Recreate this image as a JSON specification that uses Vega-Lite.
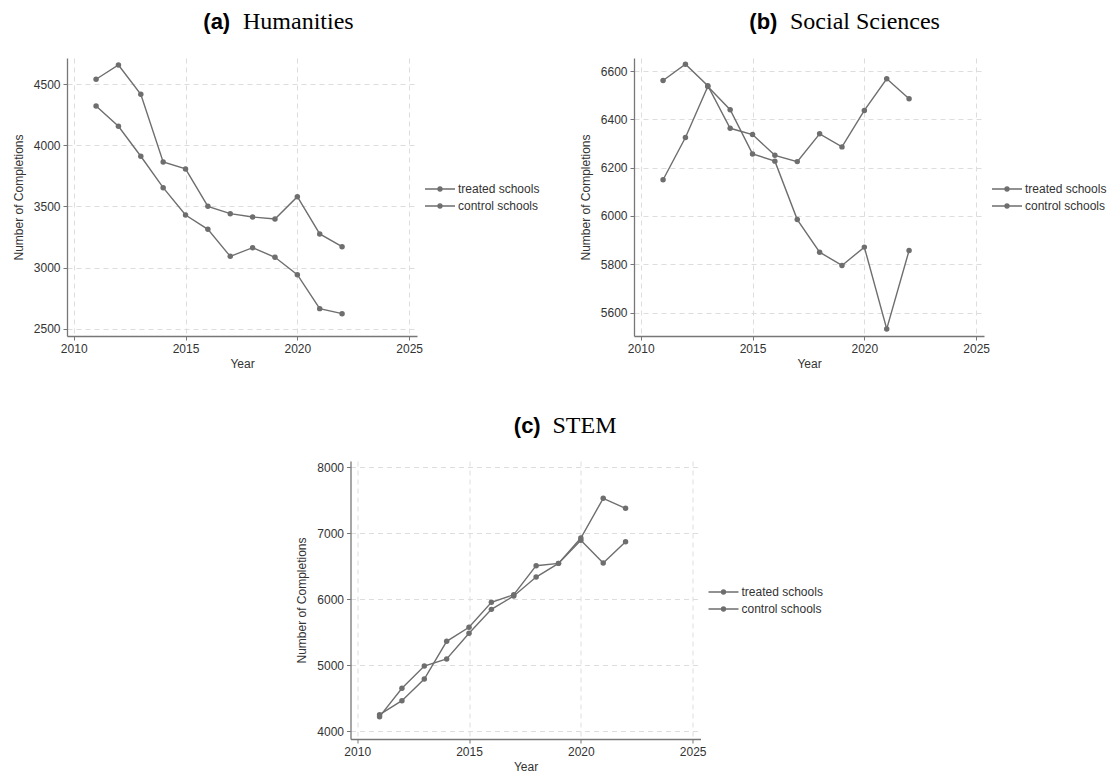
{
  "$schema": "https://vega.github.io/schema/vega-lite/v6.json",
  "background": "white",
  "padding": {"left": 12, "top": 10, "right": 0, "bottom": 0},
  "datasets": {
    "hum": [
      {"year": 2011, "group": "treated schools", "value": 4541},
      {"year": 2012, "group": "treated schools", "value": 4658},
      {"year": 2013, "group": "treated schools", "value": 4418},
      {"year": 2014, "group": "treated schools", "value": 3864},
      {"year": 2015, "group": "treated schools", "value": 3807},
      {"year": 2016, "group": "treated schools", "value": 3501},
      {"year": 2017, "group": "treated schools", "value": 3441},
      {"year": 2018, "group": "treated schools", "value": 3414},
      {"year": 2019, "group": "treated schools", "value": 3398},
      {"year": 2020, "group": "treated schools", "value": 3580},
      {"year": 2021, "group": "treated schools", "value": 3275},
      {"year": 2022, "group": "treated schools", "value": 3171},
      {"year": 2011, "group": "control schools", "value": 4323},
      {"year": 2012, "group": "control schools", "value": 4156},
      {"year": 2013, "group": "control schools", "value": 3911},
      {"year": 2014, "group": "control schools", "value": 3654},
      {"year": 2015, "group": "control schools", "value": 3430},
      {"year": 2016, "group": "control schools", "value": 3313},
      {"year": 2017, "group": "control schools", "value": 3092},
      {"year": 2018, "group": "control schools", "value": 3163},
      {"year": 2019, "group": "control schools", "value": 3084},
      {"year": 2020, "group": "control schools", "value": 2942},
      {"year": 2021, "group": "control schools", "value": 2664},
      {"year": 2022, "group": "control schools", "value": 2623}
    ],
    "soc": [
      {"year": 2011, "group": "treated schools", "value": 6561},
      {"year": 2012, "group": "treated schools", "value": 6628},
      {"year": 2013, "group": "treated schools", "value": 6539},
      {"year": 2014, "group": "treated schools", "value": 6363},
      {"year": 2015, "group": "treated schools", "value": 6337},
      {"year": 2016, "group": "treated schools", "value": 6251},
      {"year": 2017, "group": "treated schools", "value": 6225},
      {"year": 2018, "group": "treated schools", "value": 6340},
      {"year": 2019, "group": "treated schools", "value": 6286},
      {"year": 2020, "group": "treated schools", "value": 6437},
      {"year": 2021, "group": "treated schools", "value": 6568},
      {"year": 2022, "group": "treated schools", "value": 6485},
      {"year": 2011, "group": "control schools", "value": 6150},
      {"year": 2012, "group": "control schools", "value": 6325},
      {"year": 2013, "group": "control schools", "value": 6536},
      {"year": 2014, "group": "control schools", "value": 6440},
      {"year": 2015, "group": "control schools", "value": 6257},
      {"year": 2016, "group": "control schools", "value": 6227},
      {"year": 2017, "group": "control schools", "value": 5985},
      {"year": 2018, "group": "control schools", "value": 5850},
      {"year": 2019, "group": "control schools", "value": 5795},
      {"year": 2020, "group": "control schools", "value": 5871},
      {"year": 2021, "group": "control schools", "value": 5532},
      {"year": 2022, "group": "control schools", "value": 5857}
    ],
    "stem": [
      {"year": 2011, "group": "treated schools", "value": 4253},
      {"year": 2012, "group": "treated schools", "value": 4465},
      {"year": 2013, "group": "treated schools", "value": 4793},
      {"year": 2014, "group": "treated schools", "value": 5364},
      {"year": 2015, "group": "treated schools", "value": 5576},
      {"year": 2016, "group": "treated schools", "value": 5955},
      {"year": 2017, "group": "treated schools", "value": 6071},
      {"year": 2018, "group": "treated schools", "value": 6510},
      {"year": 2019, "group": "treated schools", "value": 6545},
      {"year": 2020, "group": "treated schools", "value": 6929},
      {"year": 2021, "group": "treated schools", "value": 7530},
      {"year": 2022, "group": "treated schools", "value": 7379},
      {"year": 2011, "group": "control schools", "value": 4222},
      {"year": 2012, "group": "control schools", "value": 4652},
      {"year": 2013, "group": "control schools", "value": 4990},
      {"year": 2014, "group": "control schools", "value": 5096},
      {"year": 2015, "group": "control schools", "value": 5485},
      {"year": 2016, "group": "control schools", "value": 5848},
      {"year": 2017, "group": "control schools", "value": 6051},
      {"year": 2018, "group": "control schools", "value": 6338},
      {"year": 2019, "group": "control schools", "value": 6545},
      {"year": 2020, "group": "control schools", "value": 6894},
      {"year": 2021, "group": "control schools", "value": 6551},
      {"year": 2022, "group": "control schools", "value": 6874}
    ]
  },
  "vconcat": [
    {
      "hconcat": [
        {
          "title": {"text": "(a)", "font": "Liberation Sans", "fontWeight": "bold", "fontSize": 22, "color": "#000", "anchor": "start", "frame": "bounds", "baseline": "alphabetic", "dx": 191, "offset": -41},
          "vconcat": [
            {
              "width": 350,
              "height": 278,
              "data": {"name": "hum"},
              "title": {"text": "Humanities", "font": "Liberation Serif", "fontWeight": "normal", "fontSize": 24, "color": "#000", "anchor": "start", "frame": "group", "baseline": "alphabetic", "dx": 176, "offset": 5},
              "mark": {"type": "line", "strokeWidth": 1.4, "point": {"filled": true, "size": 30}},
              "encoding": {
                "x": {"field": "year", "type": "quantitative", "title": "Year", "scale": {"domain": [2009.7, 2025.35], "nice": false, "zero": false}, "axis": {"values": [2010, 2015, 2020, 2025], "format": "d"}},
                "y": {"field": "value", "type": "quantitative", "title": "Number of Completions", "scale": {"domain": [2440, 4715], "nice": false, "zero": false}, "axis": {"values": [2500, 3000, 3500, 4000, 4500], "format": "d"}},
                "color": {"field": "group", "type": "nominal", "scale": {"domain": ["treated schools", "control schools"], "range": ["#6e6e6e", "#6e6e6e"]},
                  "legend": {"title": null, "orient": "none", "legendX": 367, "legendY": 125,
                    "encode": {"symbols": {"update": {"fill": {"value": "#6e6e6e"}, "stroke": {"value": "#6e6e6e"}, "strokeWidth": {"value": 1.3}}}}}}
              }
            }
          ],
          "resolve": {"scale": {"color": "independent"}, "legend": {"color": "independent"}}
        },
        {
          "title": {"text": "(b)", "font": "Liberation Sans", "fontWeight": "bold", "fontSize": 22, "color": "#000", "anchor": "start", "frame": "bounds", "baseline": "alphabetic", "dx": 170, "offset": -41},
          "vconcat": [
            {
              "width": 350,
              "height": 278,
              "data": {"name": "soc"},
              "title": {"text": "Social Sciences", "font": "Liberation Serif", "fontWeight": "normal", "fontSize": 24, "color": "#000", "anchor": "start", "frame": "group", "baseline": "alphabetic", "dx": 156, "offset": 5},
              "mark": {"type": "line", "strokeWidth": 1.4, "point": {"filled": true, "size": 30}},
              "encoding": {
                "x": {"field": "year", "type": "quantitative", "title": "Year", "scale": {"domain": [2009.7, 2025.35], "nice": false, "zero": false}, "axis": {"values": [2010, 2015, 2020, 2025], "format": "d"}},
                "y": {"field": "value", "type": "quantitative", "title": "Number of Completions", "scale": {"domain": [5503, 6654], "nice": false, "zero": false}, "axis": {"values": [5600, 5800, 6000, 6200, 6400, 6600], "format": "d"}},
                "color": {"field": "group", "type": "nominal", "scale": {"domain": ["treated schools", "control schools"], "range": ["#6e6e6e", "#6e6e6e"]},
                  "legend": {"title": null, "orient": "none", "legendX": 367, "legendY": 125,
                    "encode": {"symbols": {"update": {"fill": {"value": "#6e6e6e"}, "stroke": {"value": "#6e6e6e"}, "strokeWidth": {"value": 1.3}}}}}}
              }
            }
          ],
          "resolve": {"scale": {"color": "independent"}, "legend": {"color": "independent"}}
        }
      ],
      "spacing": 39,
      "resolve": {"scale": {"color": "independent"}, "legend": {"color": "independent"}}
    },
    {
      "title": {"text": "(c)", "font": "Liberation Sans", "fontWeight": "bold", "fontSize": 22, "color": "#000", "anchor": "start", "frame": "bounds", "baseline": "alphabetic", "dx": 218, "offset": -41},
      "vconcat": [
        {
          "width": 350,
          "height": 278,
          "data": {"name": "stem"},
          "title": {"text": "STEM", "font": "Liberation Serif", "fontWeight": "normal", "fontSize": 24, "color": "#000", "anchor": "start", "frame": "group", "baseline": "alphabetic", "dx": 202, "offset": 4},
          "mark": {"type": "line", "strokeWidth": 1.4, "point": {"filled": true, "size": 30}},
          "encoding": {
            "x": {"field": "year", "type": "quantitative", "title": "Year", "scale": {"domain": [2009.7, 2025.35], "nice": false, "zero": false}, "axis": {"values": [2010, 2015, 2020, 2025], "format": "d"}},
            "y": {"field": "value", "type": "quantitative", "title": "Number of Completions", "scale": {"domain": [3884, 8096], "nice": false, "zero": false}, "axis": {"values": [4000, 5000, 6000, 7000, 8000], "format": "d"}},
            "color": {"field": "group", "type": "nominal", "scale": {"domain": ["treated schools", "control schools"], "range": ["#6e6e6e", "#6e6e6e"]},
              "legend": {"title": null, "orient": "none", "legendX": 367, "legendY": 125,
                "encode": {"symbols": {"update": {"fill": {"value": "#6e6e6e"}, "stroke": {"value": "#6e6e6e"}, "strokeWidth": {"value": 1.3}}}}}}
          }
        }
      ],
      "resolve": {"scale": {"color": "independent"}, "legend": {"color": "independent"}}
    }
  ],
  "spacing": 45,
  "center": true,
  "resolve": {"scale": {"color": "independent"}, "legend": {"color": "independent"}},
  "config": {
    "view": {"stroke": null},
    "font": "Liberation Sans",
    "axis": {
      "domainColor": "#777777",
      "domainWidth": 1.3,
      "tickColor": "#777777",
      "tickSize": 4,
      "tickWidth": 1,
      "labelColor": "#333333",
      "labelFont": "Liberation Sans",
      "labelFontSize": 12,
      "labelPadding": 3,
      "titleColor": "#333333",
      "titleFont": "Liberation Sans",
      "titleFontSize": 12,
      "titleFontWeight": "normal",
      "gridColor": "#dddddd",
      "gridDash": [5, 4],
      "gridWidth": 1
    },
    "axisX": {"titlePadding": 4, "labelFlush": false},
    "axisY": {"titlePadding": 8},
    "legend": {
      "padding": 0,
      "symbolType": "M-3,0H3M-0.4,0A0.4,0.4,0,1,0,0.4,0A0.4,0.4,0,1,0,-0.4,0Z",
      "symbolSize": 100,
      "symbolStrokeWidth": 1.3,
      "labelFont": "Liberation Sans",
      "labelFontSize": 12,
      "labelColor": "#333333",
      "labelOffset": 12,
      "rowPadding": 5
    }
  }
}
